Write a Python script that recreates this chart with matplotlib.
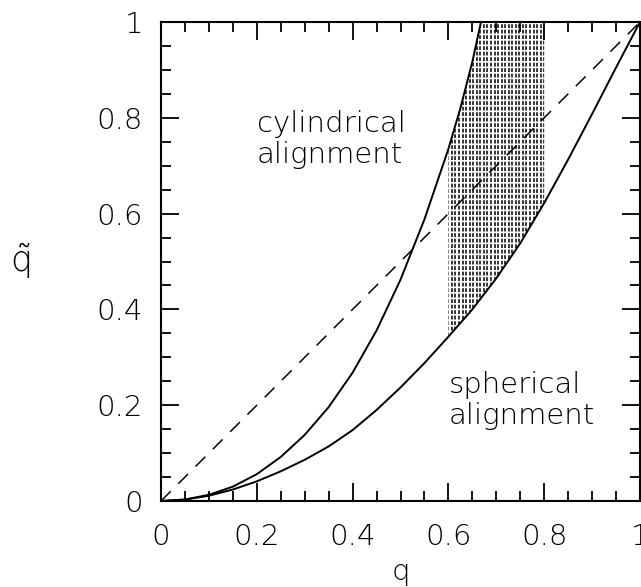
import numpy as np
import matplotlib.pyplot as plt
from matplotlib.patches import Polygon
from matplotlib.ticker import MultipleLocator

plt.rcParams['font.family'] = ['DejaVu Sans']
plt.rcParams['font.weight'] = 200
plt.rcParams['axes.labelweight'] = 200
plt.rcParams['mathtext.fontset'] = 'custom'
plt.rcParams['mathtext.rm'] = 'DejaVu Sans:weight=200'

# curve readings (q, q~)
q_cyl = [0, .05, .1, .15, .2, .25, .3, .35, .4, .45, .5, .55, .6, .625, .65, .668]
qt_cyl = [0, 0.003, 0.013, 0.030, 0.056, 0.092, 0.138, 0.196, 0.268, 0.356, 0.462, 0.588, 0.735,
          0.82, 0.917, 1.0]

q_sph = [0, .05, .1, .15, .2, .25, .3, .35, .4, .45, .5, .55, .6, .65, .7, .75, .8, .85, .9, .95, 1.0]
qt_sph = [0, 0.003, 0.011, 0.024, 0.041, 0.062, 0.086, 0.114, 0.148, 0.190, 0.237, 0.288, 0.343,
          0.40, 0.465, 0.538, 0.622, 0.713, 0.808, 0.905, 1.0]

q_diag = [0, 1]
qt_diag = [0, 1]

band_lo, band_hi = 0.6, 0.8

fig = plt.figure(figsize=(6.41, 5.87), dpi=100)
ax = fig.add_axes([161/641, 86/587, 479/641, 479/587])

ax.plot(q_cyl, qt_cyl, color='black', lw=1.4, solid_joinstyle='round')
ax.plot(q_sph, qt_sph, color='black', lw=1.4, solid_joinstyle='round')
ax.plot(q_diag, qt_diag, color='black', lw=1.1, linestyle=(0, (9, 7)))

# shaded band between the two curves, 0.6 < q < 0.8
top = [(q, t) for q, t in zip(q_cyl, qt_cyl) if q >= band_lo]
bot = [(q, t) for q, t in zip(q_sph, qt_sph) if band_lo <= q <= band_hi]
verts = top + [(band_hi, 1.0)] + bot[::-1]
clip = Polygon(verts, closed=True, transform=ax.transData)
hatch = ax.vlines(np.linspace(band_lo, band_hi, 28), 0, 1, colors='black',
                  lw=1.1, linestyles=(0, (2.5, 1.1)))
hatch.set_clip_path(clip)

ax.text(0.20, 0.755, 'cylindrical\nalignment', fontsize=21, va='center', ha='left',
        linespacing=1.12)
ax.text(0.60, 0.21, 'spherical\nalignment', fontsize=21, va='center', ha='left',
        linespacing=1.12)

ax.set_xlim(0, 1)
ax.set_ylim(0, 1)
ax.xaxis.set_major_locator(MultipleLocator(0.2))
ax.xaxis.set_minor_locator(MultipleLocator(0.05))
ax.yaxis.set_major_locator(MultipleLocator(0.2))
ax.yaxis.set_minor_locator(MultipleLocator(0.05))
ax.xaxis.set_major_formatter(plt.FuncFormatter(lambda v, p: '%g' % round(v, 2)))
ax.yaxis.set_major_formatter(plt.FuncFormatter(lambda v, p: '%g' % round(v, 2)))
ax.tick_params(which='both', direction='in', top=True, right=True, width=1.3,
               labelsize=21)
ax.tick_params(axis='x', pad=16)
ax.tick_params(axis='y', pad=13)
ax.tick_params(which='major', length=13)
ax.tick_params(which='minor', length=7)
for s in ax.spines.values():
    s.set_linewidth(1.5)

ax.set_xlabel('q', fontsize=21, labelpad=0)
ax.set_ylabel(r'$\tilde{\mathrm{q}}$', fontsize=25, rotation=0, labelpad=0,
              va='center', ha='center')
ax.yaxis.set_label_coords(-141/479, 0.5)
ax.xaxis.set_label_coords(0.5, -57/479)

fig.savefig('out.png', dpi=100)
